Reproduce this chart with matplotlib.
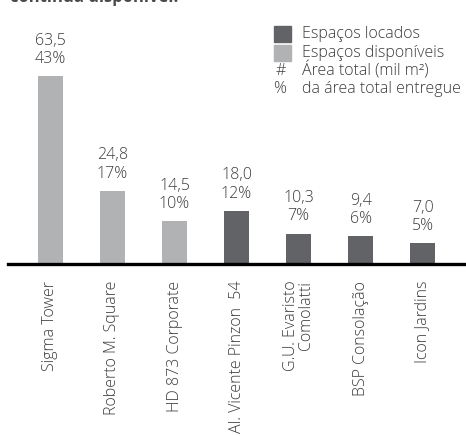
import matplotlib
matplotlib.use("Agg")
import matplotlib.pyplot as plt
from matplotlib.patches import Rectangle

categories = ["Sigma Tower", "Roberto M. Square", "HD 873 Corporate",
              "Al. Vicente Pinzon  54", "G.U. Evaristo\nComolatti",
              "BSP Consolação", "Icon Jardins"]
area = [63.5, 24.8, 14.5, 18.0, 10.3, 9.4, 7.0]
area_labels = ["63,5", "24,8", "14,5", "18,0", "10,3", "9,4", "7,0"]
pct_labels = ["43%", "17%", "10%", "12%", "7%", "6%", "5%"]
status = ["disp", "disp", "disp", "loc", "loc", "loc", "loc"]

DARK = "#626366"
LIGHT = "#b1b2b4"
TXT = "#3c3c3c"
FONT = ["Open Sans", "DejaVu Sans"]
FS = 11.5

plt.rcParams["font.family"] = FONT
plt.rcParams["font.weight"] = "light"

W, H = 466, 436
fig = plt.figure(figsize=(W / 100, H / 100), dpi=100)

def px(x0, y0, w, h):
    return [x0 / W, 1 - (y0 + h) / H, w / W, h / H]

ax = fig.add_axes(px(8, 0, 458, 264))
x = list(range(len(categories)))
colors = [LIGHT if s == "disp" else DARK for s in status]
ax.bar(x, area, width=0.403, color=colors, zorder=2)
ax.set_xlim(-0.685, 6.70)
ax.set_ylim(0, 63.5 * 264 / 188)

for xi, v, a, p in zip(x, area, area_labels, pct_labels):
    ax.annotate(f"{a}\n{p}", (xi, v), xytext=(0, 6.5), textcoords="offset points",
                ha="center", va="bottom", fontsize=FS, color=TXT,
                linespacing=1.2)

for s in ["top", "right", "left"]:
    ax.spines[s].set_visible(False)
ax.spines["bottom"].set_linewidth(2.4)
ax.spines["bottom"].set_color("black")
ax.set_yticks([])
ax.set_xticks(x)
ax.set_xticklabels(categories, rotation=90, fontsize=FS, color=TXT,
                   multialignment="right", linespacing=0.9)
ax.tick_params(axis="x", length=0, pad=12)

# legend
for yc, c, lab in [(34, DARK, "Espaços locados"), (53, LIGHT, "Espaços disponíveis")]:
    fig.add_artist(Rectangle((274 / W, 1 - (yc + 8) / H), 17 / W, 16 / H,
                             transform=fig.transFigure, color=c))
    fig.text(302 / W, 1 - yc / H, lab, ha="left", va="center", fontsize=FS, color=TXT)
fig.text(281 / W, 1 - 71 / H, "#", ha="center", va="center", fontsize=FS, color=TXT)
fig.text(302 / W, 1 - 71 / H, "Área total (mil m²)", ha="left", va="center", fontsize=FS, color=TXT)
fig.text(280 / W, 1 - 89 / H, "%", ha="center", va="center", fontsize=FS, color=TXT)
fig.text(302 / W, 1 - 89 / H, "da área total entregue", ha="left", va="center", fontsize=FS, color=TXT)

# cropped title
fig.text(10 / W, 1 - 2 / H, "contínua disponível.", ha="left", va="baseline",
         fontsize=12, fontweight="bold", color="#4a4a4a")

fig.savefig("out.png", dpi=100)
